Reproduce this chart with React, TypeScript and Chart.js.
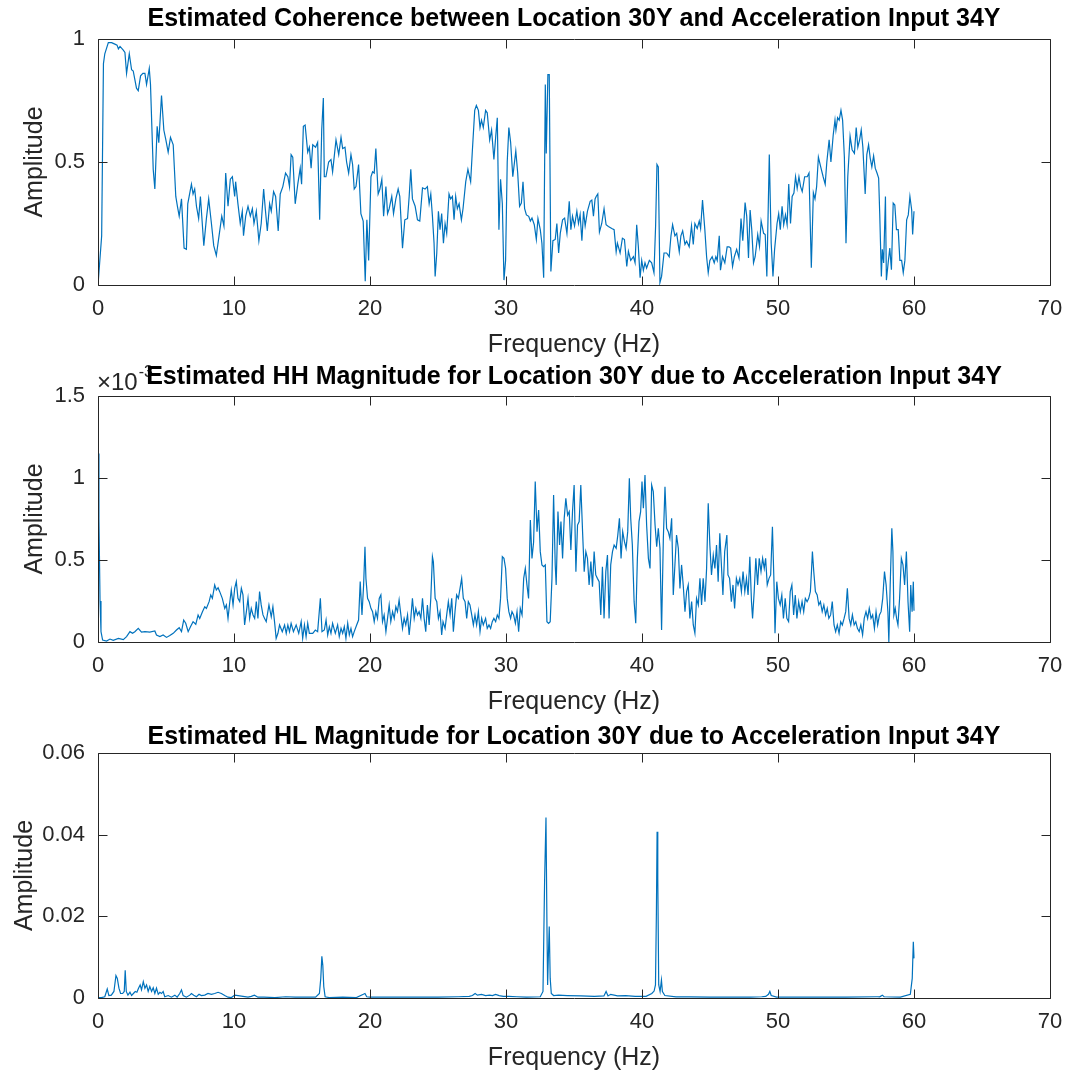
import { useEffect, useRef } from "react";
import { Chart, registerables } from "chart.js";

Chart.register(...registerables);

type Pair = [number, number];

// Frequency axis (Hz)
const freqMin = 0;
const freqMax = 70;
const freqStep = 10;

// Coherence estimate, [frequency Hz, coherence]
const coherence: Pair[] = [
  [0, 0], [0.27, 0.2], [0.4, 0.9], [0.5, 0.94], [0.76, 0.985], [1.0, 0.985], [1.2, 0.98], [1.4, 0.975],
  [1.5, 0.96], [1.62, 0.97], [1.86, 0.955], [1.98, 0.945], [2.1, 0.86], [2.3, 0.94], [2.47, 0.875],
  [2.59, 0.87], [2.83, 0.8], [2.96, 0.79], [3.13, 0.85], [3.3, 0.86], [3.45, 0.86], [3.57, 0.815],
  [3.77, 0.88], [3.86, 0.815], [4.06, 0.47], [4.18, 0.39], [4.35, 0.645], [4.47, 0.578], [4.67, 0.77],
  [4.84, 0.63], [4.99, 0.59], [5.16, 0.54], [5.33, 0.6], [5.53, 0.57], [5.72, 0.36], [5.84, 0.32],
  [5.97, 0.28], [6.14, 0.35], [6.33, 0.15], [6.5, 0.145], [6.6, 0.33], [6.87, 0.41], [6.99, 0.37],
  [7.11, 0.39], [7.24, 0.32], [7.4, 0.27], [7.53, 0.36], [7.78, 0.16], [7.97, 0.27], [8.14, 0.35],
  [8.34, 0.25], [8.51, 0.16], [8.7, 0.12], [8.9, 0.2], [9.1, 0.28], [9.26, 0.24], [9.39, 0.455],
  [9.56, 0.32], [9.73, 0.43], [9.88, 0.44], [10.05, 0.36], [10.12, 0.42], [10.29, 0.33], [10.46, 0.25],
  [10.61, 0.3], [10.7, 0.2], [10.86, 0.28], [11.03, 0.32], [11.2, 0.28], [11.35, 0.31], [11.47, 0.25],
  [11.64, 0.3], [11.83, 0.18], [12.0, 0.25], [12.18, 0.39], [12.3, 0.31], [12.45, 0.22], [12.62, 0.33],
  [12.74, 0.3], [12.91, 0.38], [13.06, 0.36], [13.25, 0.22], [13.4, 0.37], [13.59, 0.4], [13.79, 0.455],
  [13.96, 0.44], [14.08, 0.4], [14.2, 0.53], [14.32, 0.52], [14.5, 0.33], [14.69, 0.41], [14.87, 0.475],
  [14.97, 0.41], [15.1, 0.645], [15.23, 0.65], [15.42, 0.54], [15.54, 0.56], [15.67, 0.475], [15.79, 0.57],
  [16.0, 0.56], [16.15, 0.58], [16.3, 0.265], [16.45, 0.63], [16.57, 0.76], [16.64, 0.44], [16.76, 0.44],
  [16.96, 0.5], [17.13, 0.51], [17.25, 0.46], [17.5, 0.59], [17.7, 0.53], [17.87, 0.6], [17.99, 0.555],
  [18.16, 0.56], [18.28, 0.5], [18.43, 0.455], [18.6, 0.53], [18.72, 0.49], [18.84, 0.39], [18.97, 0.4],
  [19.16, 0.49], [19.33, 0.29], [19.5, 0.26], [19.65, 0.015], [19.77, 0.265], [19.9, 0.1], [20.07, 0.44],
  [20.19, 0.46], [20.31, 0.455], [20.43, 0.555], [20.6, 0.37], [20.73, 0.39], [20.87, 0.43], [21.0, 0.28],
  [21.17, 0.4], [21.29, 0.29], [21.41, 0.31], [21.6, 0.36], [21.73, 0.29], [21.9, 0.35], [22.07, 0.39],
  [22.19, 0.36], [22.39, 0.15], [22.56, 0.265], [22.76, 0.27], [22.88, 0.36], [23.0, 0.47], [23.12, 0.35],
  [23.32, 0.32], [23.49, 0.265], [23.66, 0.26], [23.86, 0.395], [24.05, 0.39], [24.22, 0.4], [24.35, 0.33],
  [24.47, 0.37], [24.59, 0.28], [24.71, 0.17], [24.79, 0.035], [24.91, 0.13], [25.03, 0.3], [25.15, 0.225],
  [25.27, 0.29], [25.4, 0.17], [25.52, 0.25], [25.64, 0.21], [25.81, 0.37], [25.93, 0.35], [26.06, 0.36],
  [26.18, 0.265], [26.3, 0.36], [26.42, 0.31], [26.55, 0.33], [26.72, 0.265], [26.84, 0.31], [27.04, 0.42],
  [27.2, 0.47], [27.4, 0.42], [27.52, 0.54], [27.7, 0.71], [27.82, 0.73], [27.97, 0.71], [28.09, 0.64],
  [28.2, 0.67], [28.33, 0.64], [28.5, 0.71], [28.62, 0.7], [28.8, 0.59], [28.94, 0.63], [29.11, 0.51],
  [29.24, 0.6], [29.36, 0.68], [29.48, 0.225], [29.6, 0.43], [29.73, 0.33], [29.85, 0.02], [29.97, 0.1],
  [30.09, 0.5], [30.21, 0.64], [30.34, 0.58], [30.5, 0.44], [30.72, 0.545], [30.86, 0.455], [31.0, 0.32],
  [31.13, 0.333], [31.25, 0.42], [31.37, 0.31], [31.5, 0.285], [31.67, 0.279], [31.79, 0.26], [31.91, 0.272],
  [32.08, 0.245], [32.23, 0.185], [32.35, 0.27], [32.52, 0.225], [32.64, 0.17], [32.77, 0.03], [32.89, 0.815],
  [32.96, 0.535], [33.08, 0.855], [33.18, 0.855], [33.3, 0.055], [33.45, 0.18], [33.62, 0.185], [33.74, 0.25],
  [33.87, 0.13], [33.99, 0.21], [34.16, 0.265], [34.31, 0.272], [34.48, 0.21], [34.65, 0.34], [34.77, 0.225],
  [34.89, 0.28], [35.04, 0.24], [35.21, 0.3], [35.33, 0.25], [35.45, 0.286], [35.58, 0.18], [35.7, 0.3],
  [35.82, 0.24], [35.99, 0.3], [36.19, 0.34], [36.31, 0.345], [36.43, 0.28], [36.55, 0.35], [36.63, 0.36],
  [36.75, 0.37], [36.87, 0.215], [37.04, 0.25], [37.21, 0.31], [37.36, 0.245], [37.53, 0.238], [37.78, 0.23],
  [37.95, 0.225], [38.1, 0.135], [38.19, 0.17], [38.39, 0.13], [38.56, 0.19], [38.71, 0.185], [38.88, 0.075],
  [39.0, 0.137], [39.17, 0.1], [39.37, 0.115], [39.49, 0.09], [39.61, 0.245], [39.73, 0.157], [39.86, 0.03],
  [39.98, 0.1], [40.1, 0.06], [40.22, 0.09], [40.34, 0.069], [40.54, 0.1], [40.71, 0.09], [40.88, 0.05],
  [41.0, 0.24], [41.1, 0.49], [41.2, 0.48], [41.32, 0.01], [41.44, 0.035], [41.62, 0.13], [41.81, 0.13],
  [42.0, 0.115], [42.13, 0.2], [42.25, 0.245], [42.42, 0.2], [42.55, 0.21], [42.74, 0.135], [42.86, 0.2],
  [42.99, 0.22], [43.16, 0.165], [43.28, 0.178], [43.47, 0.155], [43.64, 0.24], [43.77, 0.165], [43.89, 0.25],
  [44.06, 0.23], [44.21, 0.26], [44.31, 0.23], [44.45, 0.345], [44.62, 0.225], [44.75, 0.115], [44.87, 0.05],
  [44.99, 0.1], [45.16, 0.115], [45.31, 0.09], [45.43, 0.115], [45.53, 0.1], [45.68, 0.2], [45.77, 0.06],
  [45.92, 0.115], [46.09, 0.09], [46.26, 0.155], [46.4, 0.155], [46.52, 0.15], [46.66, 0.075], [46.79, 0.115],
  [46.96, 0.145], [47.13, 0.11], [47.28, 0.27], [47.41, 0.18], [47.58, 0.335], [47.7, 0.28], [47.83, 0.11],
  [47.95, 0.305], [48.07, 0.225], [48.2, 0.09], [48.32, 0.115], [48.51, 0.205], [48.64, 0.157], [48.76, 0.26],
  [48.94, 0.21], [49.06, 0.205], [49.18, 0.035], [49.36, 0.53], [49.5, 0.17], [49.63, 0.035], [49.75, 0.145],
  [49.93, 0.25], [50.05, 0.29], [50.17, 0.225], [50.3, 0.32], [50.42, 0.245], [50.55, 0.285], [50.67, 0.245],
  [50.79, 0.41], [50.92, 0.25], [51.04, 0.36], [51.17, 0.374], [51.29, 0.44], [51.41, 0.393], [51.54, 0.44],
  [51.66, 0.4], [51.78, 0.38], [51.96, 0.44], [52.15, 0.44], [52.28, 0.455], [52.45, 0.07], [52.6, 0.375],
  [52.72, 0.35], [52.84, 0.4], [52.97, 0.52], [53.14, 0.48], [53.32, 0.44], [53.47, 0.41], [53.59, 0.5],
  [53.76, 0.59], [53.89, 0.5], [54.06, 0.61], [54.19, 0.67], [54.26, 0.63], [54.38, 0.68], [54.5, 0.67],
  [54.63, 0.71], [54.75, 0.67], [54.88, 0.52], [55.0, 0.17], [55.13, 0.44], [55.3, 0.605], [55.45, 0.55],
  [55.62, 0.535], [55.75, 0.64], [55.87, 0.56], [56.0, 0.59], [56.12, 0.63], [56.24, 0.56], [56.41, 0.37],
  [56.53, 0.53], [56.66, 0.57], [56.78, 0.516], [56.9, 0.48], [57.03, 0.525], [57.15, 0.475], [57.28, 0.455],
  [57.4, 0.435], [57.48, 0.29], [57.6, 0.035], [57.67, 0.145], [57.77, 0.09], [57.9, 0.36], [57.97, 0.02],
  [58.1, 0.09], [58.22, 0.15], [58.34, 0.062], [58.47, 0.333], [58.59, 0.325], [58.71, 0.225], [58.84, 0.225],
  [58.96, 0.1], [59.09, 0.1], [59.21, 0.05], [59.33, 0.1], [59.46, 0.265], [59.58, 0.285], [59.7, 0.36],
  [59.83, 0.305], [59.9, 0.205], [60.0, 0.3],
];

// HH magnitude, [frequency Hz, magnitude in units of 1e-3]
const hhMagnitude: Pair[] = [
  [0, 1.15], [0.07, 0.75], [0.15, 0.25], [0.22, 0.063], [0.34, 0.012], [0.63, 0.006], [0.88, 0.018],
  [1.12, 0.01], [1.5, 0.022], [1.86, 0.014], [2.1, 0.033], [2.35, 0.063], [2.54, 0.053], [2.71, 0.063],
  [2.96, 0.083], [3.2, 0.06], [3.45, 0.063], [3.81, 0.06], [4.18, 0.067], [4.3, 0.043], [4.55, 0.033],
  [4.79, 0.043], [5.04, 0.028], [5.28, 0.039], [5.53, 0.053], [5.77, 0.073], [5.97, 0.087], [6.14, 0.063],
  [6.3, 0.134], [6.45, 0.114], [6.63, 0.063], [6.8, 0.093], [6.99, 0.124], [7.19, 0.108], [7.36, 0.165],
  [7.48, 0.144], [7.68, 0.185], [7.85, 0.215], [7.97, 0.205], [8.17, 0.246], [8.29, 0.287], [8.41, 0.266],
  [8.58, 0.348], [8.7, 0.317], [8.83, 0.331], [8.95, 0.307], [9.14, 0.266], [9.32, 0.205], [9.44, 0.226],
  [9.56, 0.144], [9.68, 0.236], [9.8, 0.317], [9.93, 0.226], [10.05, 0.327], [10.17, 0.368], [10.29, 0.266],
  [10.42, 0.246], [10.54, 0.327], [10.66, 0.287], [10.78, 0.104], [10.91, 0.185], [11.03, 0.266], [11.15, 0.144],
  [11.27, 0.205], [11.4, 0.165], [11.52, 0.144], [11.64, 0.246], [11.76, 0.144], [11.88, 0.307], [12.0, 0.226],
  [12.13, 0.165], [12.25, 0.144], [12.37, 0.124], [12.57, 0.226], [12.74, 0.154], [12.86, 0.215], [12.98, 0.124],
  [13.1, 0.022], [13.23, 0.053], [13.35, 0.104], [13.55, 0.063], [13.72, 0.104], [13.84, 0.053], [13.96, 0.104],
  [14.08, 0.063], [14.2, 0.114], [14.37, 0.063], [14.57, 0.104], [14.76, 0.053], [14.94, 0.124], [15.05, 0.022],
  [15.18, 0.104], [15.3, 0.033], [15.42, 0.114], [15.54, 0.053], [15.79, 0.053], [15.98, 0.073], [16.15, 0.063],
  [16.35, 0.266], [16.47, 0.063], [16.64, 0.073], [16.77, 0.134], [16.89, 0.043], [17.01, 0.093], [17.13, 0.053],
  [17.25, 0.114], [17.45, 0.053], [17.62, 0.104], [17.74, 0.033], [17.87, 0.083], [17.99, 0.053], [18.11, 0.093],
  [18.23, 0.022], [18.36, 0.114], [18.48, 0.043], [18.6, 0.083], [18.72, 0.033], [18.84, 0.063], [19.02, 0.104],
  [19.16, 0.134], [19.28, 0.368], [19.41, 0.165], [19.53, 0.348], [19.63, 0.58], [19.7, 0.388], [19.82, 0.266],
  [19.94, 0.246], [20.07, 0.205], [20.19, 0.185], [20.31, 0.124], [20.43, 0.185], [20.55, 0.144], [20.68, 0.266],
  [20.8, 0.287], [20.92, 0.124], [21.04, 0.165], [21.17, 0.063], [21.29, 0.144], [21.41, 0.226], [21.53, 0.124],
  [21.66, 0.185], [21.78, 0.144], [21.9, 0.215], [22.02, 0.185], [22.14, 0.256], [22.27, 0.165], [22.39, 0.083],
  [22.51, 0.144], [22.63, 0.104], [22.76, 0.165], [22.88, 0.043], [23.0, 0.144], [23.12, 0.266], [23.25, 0.144],
  [23.37, 0.205], [23.49, 0.165], [23.61, 0.185], [23.74, 0.144], [23.86, 0.266], [23.98, 0.144], [24.1, 0.063],
  [24.22, 0.226], [24.35, 0.104], [24.47, 0.266], [24.59, 0.52], [24.66, 0.489], [24.79, 0.266], [24.91, 0.246],
  [25.03, 0.144], [25.15, 0.185], [25.27, 0.043], [25.37, 0.124], [25.52, 0.083], [25.64, 0.165], [25.76, 0.246],
  [25.89, 0.165], [26.01, 0.266], [26.13, 0.063], [26.25, 0.185], [26.37, 0.287], [26.5, 0.266], [26.62, 0.327],
  [26.74, 0.388], [26.86, 0.266], [26.99, 0.246], [27.11, 0.144], [27.23, 0.246], [27.35, 0.226], [27.48, 0.165],
  [27.6, 0.104], [27.72, 0.165], [27.84, 0.104], [27.97, 0.185], [28.09, 0.063], [28.21, 0.144], [28.33, 0.104],
  [28.5, 0.144], [28.62, 0.083], [28.75, 0.104], [28.87, 0.083], [28.99, 0.124], [29.11, 0.144], [29.24, 0.124],
  [29.36, 0.165], [29.48, 0.144], [29.6, 0.266], [29.73, 0.52], [29.85, 0.51], [29.97, 0.45], [30.09, 0.266],
  [30.21, 0.185], [30.34, 0.144], [30.44, 0.185], [30.56, 0.165], [30.69, 0.114], [30.81, 0.185], [30.93, 0.063],
  [31.05, 0.205], [31.18, 0.165], [31.3, 0.388], [31.42, 0.449], [31.54, 0.348], [31.66, 0.266], [31.79, 0.744],
  [31.91, 0.51], [32.03, 0.61], [32.15, 0.978], [32.28, 0.673], [32.4, 0.805], [32.52, 0.551], [32.64, 0.47],
  [32.77, 0.459], [32.89, 0.47], [33.01, 0.124], [33.13, 0.114], [33.25, 0.124], [33.38, 0.388], [33.5, 0.896],
  [33.62, 0.47], [33.69, 0.348], [33.82, 0.795], [33.94, 0.591], [34.04, 0.734], [34.16, 0.51], [34.28, 0.754],
  [34.4, 0.876], [34.53, 0.774], [34.65, 0.795], [34.77, 0.561], [34.89, 0.795], [35.01, 0.957], [35.14, 0.429],
  [35.26, 0.713], [35.38, 0.734], [35.5, 0.957], [35.63, 0.673], [35.75, 0.429], [35.87, 0.551], [35.99, 0.51],
  [36.11, 0.348], [36.24, 0.49], [36.36, 0.337], [36.48, 0.551], [36.6, 0.409], [36.72, 0.388], [36.85, 0.368],
  [36.97, 0.165], [37.09, 0.459], [37.21, 0.144], [37.34, 0.429], [37.46, 0.53], [37.58, 0.144], [37.7, 0.47],
  [37.83, 0.551], [37.95, 0.591], [38.1, 0.571], [38.22, 0.652], [38.34, 0.754], [38.46, 0.51], [38.58, 0.673],
  [38.71, 0.612], [38.83, 0.571], [38.95, 0.673], [39.07, 0.998], [39.17, 0.754], [39.29, 0.591], [39.42, 0.246],
  [39.54, 0.114], [39.66, 0.51], [39.78, 0.734], [39.9, 0.795], [40.0, 0.978], [40.1, 0.815], [40.22, 1.018],
  [40.34, 0.713], [40.47, 0.51], [40.59, 0.449], [40.71, 0.957], [40.83, 0.917], [40.96, 0.713], [41.08, 0.581],
  [41.2, 0.693], [41.32, 0.571], [41.44, 0.073], [41.57, 0.632], [41.69, 0.947], [41.81, 0.693], [41.93, 0.673],
  [42.05, 0.632], [42.18, 0.754], [42.3, 0.287], [42.42, 0.47], [42.54, 0.652], [42.67, 0.571], [42.79, 0.327],
  [42.91, 0.47], [43.03, 0.348], [43.16, 0.185], [43.28, 0.307], [43.4, 0.348], [43.52, 0.144], [43.65, 0.246],
  [43.77, 0.104], [43.89, 0.053], [44.01, 0.266], [44.14, 0.226], [44.26, 0.388], [44.38, 0.226], [44.5, 0.388],
  [44.63, 0.246], [44.75, 0.449], [44.87, 0.846], [44.99, 0.591], [45.11, 0.409], [45.24, 0.53], [45.36, 0.449],
  [45.48, 0.591], [45.6, 0.368], [45.72, 0.663], [45.95, 0.287], [46.08, 0.551], [46.24, 0.652], [46.32, 0.409],
  [46.44, 0.388], [46.57, 0.246], [46.69, 0.348], [46.81, 0.205], [46.94, 0.388], [47.06, 0.348], [47.19, 0.388],
  [47.31, 0.307], [47.43, 0.429], [47.56, 0.307], [47.68, 0.388], [47.8, 0.287], [47.93, 0.52], [48.05, 0.246],
  [48.13, 0.144], [48.25, 0.307], [48.37, 0.51], [48.5, 0.348], [48.62, 0.51], [48.75, 0.429], [48.87, 0.51],
  [48.99, 0.449], [49.09, 0.51], [49.21, 0.348], [49.34, 0.388], [49.46, 0.409], [49.59, 0.703], [49.71, 0.348],
  [49.78, 0.053], [49.91, 0.368], [50.03, 0.266], [50.16, 0.226], [50.28, 0.287], [50.4, 0.144], [50.53, 0.266],
  [50.65, 0.144], [50.78, 0.124], [50.9, 0.307], [51.02, 0.348], [51.15, 0.165], [51.27, 0.287], [51.39, 0.144],
  [51.52, 0.246], [51.64, 0.185], [51.77, 0.246], [51.89, 0.185], [52.01, 0.266], [52.14, 0.246], [52.26, 0.266],
  [52.38, 0.307], [52.46, 0.429], [52.53, 0.551], [52.63, 0.429], [52.75, 0.307], [52.88, 0.287], [53.0, 0.226],
  [53.12, 0.246], [53.25, 0.185], [53.37, 0.226], [53.5, 0.165], [53.62, 0.205], [53.74, 0.144], [53.87, 0.165],
  [53.99, 0.246], [54.12, 0.104], [54.24, 0.063], [54.36, 0.104], [54.49, 0.053], [54.61, 0.124], [54.73, 0.104],
  [54.86, 0.144], [54.98, 0.185], [55.1, 0.327], [55.23, 0.144], [55.35, 0.104], [55.47, 0.165], [55.6, 0.104],
  [55.72, 0.124], [55.84, 0.083], [55.97, 0.063], [56.09, 0.104], [56.22, 0.043], [56.34, 0.144], [56.47, 0.185],
  [56.59, 0.144], [56.71, 0.205], [56.84, 0.144], [56.96, 0.165], [57.09, 0.083], [57.21, 0.185], [57.33, 0.104],
  [57.46, 0.165], [57.58, 0.185], [57.7, 0.266], [57.83, 0.429], [57.95, 0.348], [58.08, 0.185], [58.15, 0.0],
  [58.25, 0.348], [58.37, 0.693], [58.45, 0.551], [58.52, 0.165], [58.62, 0.205], [58.72, 0.144], [58.82, 0.104],
  [58.94, 0.266], [59.07, 0.51], [59.19, 0.47], [59.31, 0.348], [59.44, 0.551], [59.56, 0.246], [59.68, 0.063],
  [59.76, 0.348], [59.86, 0.185], [59.95, 0.368], [60.0, 0.19],
];

// HL magnitude, [frequency Hz, magnitude]
const hlMagnitude: Pair[] = [
  [0, 0.0001], [0.25, 0.0001], [0.5, 0.0003], [0.68, 0.0022], [0.8, 0.0006], [0.98, 0.0007], [1.17, 0.0016],
  [1.32, 0.0055], [1.42, 0.0048], [1.54, 0.0024], [1.66, 0.0011], [1.81, 0.0011], [1.93, 0.0016], [2.0, 0.0068],
  [2.08, 0.0016], [2.2, 0.0007], [2.35, 0.0014], [2.47, 0.0006], [2.6, 0.0011], [2.74, 0.0016], [2.86, 0.0014],
  [2.98, 0.0024], [3.1, 0.0032], [3.2, 0.002], [3.33, 0.004], [3.45, 0.0024], [3.57, 0.0032], [3.69, 0.0016],
  [3.81, 0.0028], [3.94, 0.0016], [4.06, 0.0025], [4.18, 0.0011], [4.3, 0.0024], [4.43, 0.0009], [4.55, 0.0014],
  [4.67, 0.0011], [4.79, 0.0016], [4.91, 0.0003], [5.16, 0.0006], [5.4, 0.0002], [5.65, 0.0007], [5.82, 0.0002],
  [6.01, 0.0011], [6.14, 0.002], [6.26, 0.0006], [6.5, 0.0002], [6.75, 0.0007], [6.87, 0.0011], [7.04, 0.0007],
  [7.24, 0.0003], [7.43, 0.0009], [7.6, 0.0006], [7.85, 0.0007], [8.09, 0.0011], [8.34, 0.0009], [8.58, 0.0011],
  [8.83, 0.0014], [9.07, 0.0011], [9.32, 0.0006], [9.56, 0.0002], [9.81, 0.0001], [10.05, 0.0007], [10.3, 0.0006],
  [10.66, 0.0004], [11.03, 0.0002], [11.27, 0.0004], [11.5, 0.0007], [11.76, 0.0002], [12.2, 0.0002],
  [13.0, 0.0001], [13.8, 0.0003], [14.5, 0.0002], [15.5, 0.0002], [16.0, 0.0002], [16.28, 0.0011],
  [16.38, 0.0048], [16.46, 0.0102], [16.53, 0.008], [16.6, 0.0028], [16.7, 0.0003], [17.0, 0.0001],
  [18.0, 0.0002], [19.0, 0.0001], [19.51, 0.0009], [19.63, 0.0011], [19.76, 0.0003], [20.0, 0.0002],
  [21.0, 0.0002], [23.0, 0.0002], [25.0, 0.0002], [26.5, 0.0003], [27.3, 0.0004], [27.53, 0.0006],
  [27.73, 0.0011], [27.9, 0.0007], [28.2, 0.0009], [28.5, 0.0006], [28.8, 0.0007], [29.0, 0.0006],
  [29.24, 0.0009], [29.5, 0.0006], [29.8, 0.0004], [30.2, 0.0004], [30.8, 0.0003], [31.5, 0.0002],
  [32.52, 0.0003], [32.72, 0.0016], [32.84, 0.029], [32.94, 0.0442], [33.01, 0.0179], [33.06, 0.0032],
  [33.11, 0.0097], [33.18, 0.0175], [33.25, 0.0048], [33.33, 0.0011], [33.5, 0.0006], [33.87, 0.0007],
  [34.5, 0.0006], [35.5, 0.0005], [36.5, 0.0004], [37.2, 0.0005], [37.36, 0.0016], [37.5, 0.0005],
  [37.7, 0.0009], [38.2, 0.0005], [38.8, 0.0006], [39.5, 0.0004], [40.3, 0.0004], [40.72, 0.0011],
  [40.89, 0.0017], [40.99, 0.0032], [41.06, 0.0211], [41.11, 0.0407], [41.16, 0.0293], [41.23, 0.0032],
  [41.33, 0.0016], [41.43, 0.0044], [41.5, 0.0016], [41.68, 0.0006], [42.5, 0.0003], [43.5, 0.0003],
  [45.0, 0.0002], [46.5, 0.0002], [48.0, 0.0002], [48.8, 0.0003], [49.1, 0.0004], [49.3, 0.0009],
  [49.4, 0.0016], [49.5, 0.0006], [49.9, 0.0002], [52.0, 0.0002], [55.0, 0.0002], [57.3, 0.0003],
  [57.48, 0.0003], [57.67, 0.0007], [57.8, 0.0003], [59.0, 0.0002], [59.73, 0.0009], [59.87, 0.0048],
  [59.95, 0.0138], [60.0, 0.0097],
];

const LINE_COLOR = "#0072BD";
const AXIS_COLOR = "#262626";
const FONT = "'Liberation Sans', Arial, Helvetica, sans-serif";

type PanelSpec = {
  title: string;
  data: Pair[];
  yMax: number;
  yStep: number;
  top: number;
  height: number;
  titlePad: { top: number; bottom: number };
  yTitlePad: number;
  exponent?: string;
};

const panels: PanelSpec[] = [
  {
    title: "Estimated Coherence between Location 30Y and Acceleration Input 34Y",
    data: coherence,
    yMax: 1,
    yStep: 0.5,
    top: 0,
    height: 360,
    titlePad: { top: 4, bottom: 5 },
    yTitlePad: 20,
  },
  {
    title: "Estimated HH Magnitude for Location 30Y due to Acceleration Input 34Y",
    data: hhMagnitude,
    yMax: 1.5,
    yStep: 0.5,
    top: 360,
    height: 357,
    titlePad: { top: 2, bottom: 4 },
    yTitlePad: 20,
    exponent: "-3",
  },
  {
    title: "Estimated HL Magnitude for Location 30Y due to Acceleration Input 34Y",
    data: hlMagnitude,
    yMax: 0.06,
    yStep: 0.02,
    top: 717,
    height: 356,
    titlePad: { top: 5, bottom: 1 },
    yTitlePad: 10,
  },
];

// Tick values printed without trailing zeros (1 rather than 1.0)
const formatTick = (v: number | string) => String(Math.round(Number(v) * 1e6) / 1e6);

// Box around the axes with inward tick marks on all four sides
const boxedAxes = {
  id: "boxedAxes",
  afterDatasetsDraw(chart: any) {
    const { ctx, chartArea, scales } = chart;
    const l = Math.round(chartArea.left) + 0.5;
    const r = Math.round(chartArea.right) + 0.5;
    const t = Math.round(chartArea.top) + 0.5;
    const b = Math.round(chartArea.bottom) + 0.5;
    const len = 9;
    ctx.save();
    ctx.strokeStyle = AXIS_COLOR;
    ctx.lineWidth = 1;
    ctx.beginPath();
    ctx.rect(l, t, r - l, b - t);
    for (const tk of scales.x.ticks) {
      const px = Math.round(scales.x.getPixelForValue(tk.value)) + 0.5;
      ctx.moveTo(px, b);
      ctx.lineTo(px, b - len);
      ctx.moveTo(px, t);
      ctx.lineTo(px, t + len);
    }
    for (const tk of scales.y.ticks) {
      const py = Math.round(scales.y.getPixelForValue(tk.value)) + 0.5;
      ctx.moveTo(l, py);
      ctx.lineTo(l + len, py);
      ctx.moveTo(r, py);
      ctx.lineTo(r - len, py);
    }
    ctx.stroke();
    ctx.restore();
  },
};

// Axis exponent label (x10^n) above the top-left corner, drawn under the title
const axisExponent = {
  id: "axisExponent",
  beforeDraw(chart: any, _args: any, opts: any) {
    if (!opts || !opts.text) return;
    const { ctx, chartArea } = chart;
    ctx.save();
    ctx.fillStyle = AXIS_COLOR;
    ctx.textBaseline = "alphabetic";
    ctx.textAlign = "left";
    ctx.font = `24px ${FONT}`;
    const base = "\u00d710";
    const x = chartArea.left - 1;
    const y = chartArea.top - 6;
    ctx.fillText(base, x, y);
    const w = ctx.measureText(base).width;
    ctx.font = `16px ${FONT}`;
    ctx.fillText(opts.text, x + w + 1, y - 13);
    ctx.restore();
  },
};

function SpectrumPanel({ spec }: { spec: PanelSpec }) {
  const ref = useRef<HTMLCanvasElement | null>(null);

  useEffect(() => {
    if (!ref.current) return;
    const chart = new Chart(ref.current, {
      type: "line",
      data: {
        datasets: [
          {
            data: spec.data.map(([x, y]) => ({ x, y })),
            borderColor: LINE_COLOR,
            borderWidth: 1.2,
            pointRadius: 0,
            tension: 0,
            fill: false,
          },
        ],
      },
      options: {
        responsive: false,
        animation: false,
        devicePixelRatio: 1,
        layout: { padding: { left: 0, right: 19, top: 0, bottom: 0 } },
        plugins: {
          legend: { display: false },
          tooltip: { enabled: false },
          title: {
            display: true,
            text: spec.title,
            fullSize: false,
            color: "#000000",
            font: { family: FONT, size: 25, weight: "bold", lineHeight: 1.2 },
            padding: spec.titlePad,
          },
          axisExponent: { text: spec.exponent ?? "" },
        } as any,
        scales: {
          x: {
            type: "linear",
            min: freqMin,
            max: freqMax,
            grid: { display: false, drawTicks: false },
            border: { display: false },
            ticks: {
              stepSize: freqStep,
              color: AXIS_COLOR,
              padding: 11,
              maxRotation: 0,
              callback: formatTick,
              font: { family: FONT, size: 22, lineHeight: 1.2 },
            },
            title: {
              display: true,
              text: "Frequency (Hz)",
              color: AXIS_COLOR,
              font: { family: FONT, size: 25, lineHeight: 1.2 },
              padding: { top: 0, bottom: 0 },
            },
            afterFit: (s: any) => {
              s.height = 75;
              s.paddingLeft = 0;
              s.paddingRight = 0;
            },
          },
          y: {
            type: "linear",
            min: 0,
            max: spec.yMax,
            grid: { display: false, drawTicks: false },
            border: { display: false },
            ticks: {
              stepSize: spec.yStep,
              color: AXIS_COLOR,
              padding: 13,
              callback: formatTick,
              font: { family: FONT, size: 22, lineHeight: 1.2 },
            },
            title: {
              display: true,
              text: "Amplitude",
              color: AXIS_COLOR,
              font: { family: FONT, size: 25, lineHeight: 1.2 },
              padding: { top: spec.yTitlePad, bottom: 0 },
            },
            afterFit: (s: any) => {
              s.width = 98;
              s.paddingTop = 0;
              s.paddingBottom = 0;
            },
          },
        },
      },
      plugins: [axisExponent, boxedAxes],
    });
    return () => chart.destroy();
  }, [spec]);

  return (
    <canvas
      ref={ref}
      width={1069}
      height={spec.height}
      style={{ position: "absolute", left: 0, top: spec.top, display: "block" }}
    />
  );
}

export default function App() {
  return (
    <div style={{ position: "absolute", left: 0, top: 0, width: 1069, height: 1076, background: "#ffffff" }}>
      {panels.map((p) => (
        <SpectrumPanel key={p.title} spec={p} />
      ))}
    </div>
  );
}
